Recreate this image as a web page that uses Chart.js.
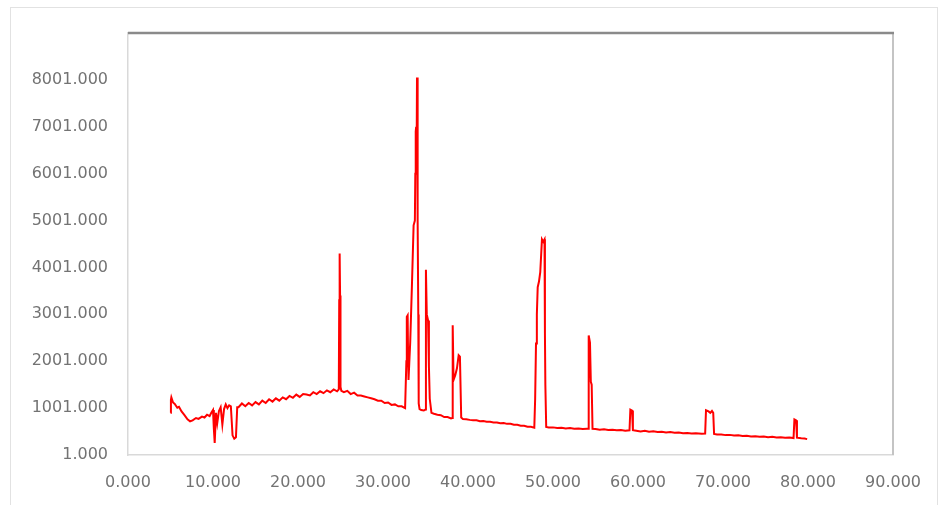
<!DOCTYPE html>
<html lang="en">
<head>
  <meta charset="UTF-8">
  <title>XRD pattern</title>
  <script src="https://cdn.jsdelivr.net/npm/chart.js"></script>
  <style>
    body { margin: 0; background: #fff; }
    .frame {
      position: absolute; left: 10px; top: 7px; width: 928px; height: 500px;
      border: 1px solid #e2e2e2; box-sizing: border-box;
    }
    canvas { position: absolute; left: 0; top: 0; }
  </style>
</head>
<body>
  <div class="frame"></div>
  <canvas id="xrdChart" width="939" height="505"></canvas>
  <script>
    // 2-theta positions and intensities
    const twoTheta = [
      5.0, 5.05, 5.1, 5.3, 5.5, 5.8, 6.0, 6.3, 6.6, 7.0, 7.3, 7.6, 8.0, 8.3, 8.7, 9.0, 9.3, 9.6, 9.8,
      10.0, 10.1, 10.2, 10.35, 10.5, 10.7, 10.9, 11.1, 11.3, 11.5, 11.7, 11.9, 12.1, 12.3, 12.5, 12.7, 12.85,
      13.0, 13.4, 13.8, 14.2, 14.6, 15.0, 15.4, 15.8, 16.2, 16.6, 17.0, 17.4, 17.8, 18.2, 18.6, 19.0, 19.4, 19.8,
      20.2, 20.6, 21.0, 21.4, 21.8, 22.2, 22.6, 23.0, 23.4, 23.8, 24.2, 24.6, 24.8, 24.85, 24.9, 24.95, 25.0,
      25.1, 25.4, 25.8, 26.2, 26.6, 27.0, 27.4, 27.8, 28.2, 28.6, 29.0, 29.4, 29.8, 30.2, 30.6, 31.0, 31.4,
      31.8, 32.2, 32.6, 32.7, 32.75, 32.8, 32.9, 32.95, 33.0, 33.2, 33.4, 33.6, 33.75, 33.8, 33.85, 33.9, 33.95,
      34.0, 34.05, 34.1, 34.15, 34.2, 34.3, 34.5, 34.8, 35.0, 35.05, 35.15, 35.3, 35.4, 35.5, 35.7,
      36.0, 36.4, 36.8, 37.2, 37.6, 38.0, 38.15, 38.2, 38.3, 38.5, 38.7, 38.9, 39.05, 39.2, 39.4, 39.8,
      40.2, 40.6, 41.0, 41.4, 41.8, 42.2, 42.6, 43.0, 43.4, 43.8, 44.2, 44.6, 45.0, 45.4, 45.8, 46.2, 46.6,
      47.0, 47.4, 47.8, 47.9, 48.0, 48.1, 48.2, 48.35, 48.5, 48.7, 48.85, 49.0, 49.05, 49.1, 49.2, 49.5,
      50.0, 50.5, 51.0, 51.5, 52.0, 52.5, 53.0, 53.5, 54.0, 54.15, 54.2, 54.35, 54.45, 54.55, 54.65,
      55.0, 55.5, 56.0, 56.5, 57.0, 57.5, 58.0, 58.5, 59.0, 59.1, 59.3, 59.4, 59.8,
      60.3, 60.8, 61.3, 61.8, 62.3, 62.8, 63.3, 63.8, 64.3, 64.8, 65.3, 65.8, 66.3, 66.8, 67.5, 67.9,
      68.0, 68.3, 68.5, 68.7, 68.85, 68.95, 69.3, 69.8, 70.3, 70.8, 71.3, 71.8, 72.3, 72.8, 73.3, 73.8,
      74.3, 74.8, 75.3, 75.8, 76.3, 76.8, 77.3, 77.8, 78.3, 78.4, 78.6, 78.7, 79.2, 79.6, 79.9
    ];
    const intensity = [
      900, 1180, 1230, 1120, 1090, 1010, 1030, 930, 860, 760, 720, 740, 790, 770, 820, 800, 860, 830, 900,
      960, 560, 260, 900, 680, 940, 1020, 650, 980, 1080, 1000, 1060, 1040, 420, 350, 380, 1020,
      1020, 1100, 1040, 1110, 1060, 1130, 1080, 1160, 1110, 1190, 1140, 1210, 1160, 1230, 1190, 1260, 1220, 1290,
      1240, 1300, 1290, 1270, 1340, 1300, 1360, 1320, 1380, 1340, 1400, 1360, 1400, 3300, 4300, 3400, 1450,
      1370, 1340, 1370, 1300, 1330, 1270, 1270, 1250, 1230, 1210, 1190, 1160, 1160, 1110, 1120, 1070, 1080,
      1040, 1040, 1000, 1000, 2000, 2950, 2980, 2100, 1600, 2400, 3600, 4900, 5000, 6000, 6900, 7000, 6200,
      8050, 7000, 5000, 3000, 1100, 980, 960, 950, 970, 3950, 3000, 2870, 1900, 1200, 900,
      880, 860, 850, 810, 810, 780, 790, 2770, 1600, 1700, 1850, 2130, 2100, 800, 770, 765,
      750, 740, 740, 720, 725, 710, 710, 695, 695, 680, 685, 665, 665, 645, 645, 625, 625,
      605, 605, 585, 1200, 2380, 3000, 3580, 3700, 3900, 4600, 4550, 4600, 2600, 1500, 600, 590,
      590, 575, 580, 565, 575, 560, 565, 555, 560, 560, 2550, 2400, 1560, 1500, 560,
      555, 540, 550, 535, 540, 530, 535, 520, 528, 970, 950, 530, 520,
      505, 518, 498, 505, 490, 495, 480, 490, 475, 480, 465, 472, 460, 465, 452, 460,
      955, 930, 900, 940, 900, 450, 440, 438, 425, 430, 415, 420, 405, 410, 395, 402,
      390, 395, 380, 388, 375, 380, 368, 372, 362, 760, 740, 370, 358, 352, 340
    ];
    const xTicks = [0, 10, 20, 30, 40, 50, 60, 70, 80, 90];
    const yTicks = [1, 1001, 2001, 3001, 4001, 5001, 6001, 7001, 8001];

    const points = twoTheta.map((t, i) => ({ x: t, y: intensity[i] }));

    // plot area outline (top and right edges)
    const plotFrame = {
      id: 'plotFrame',
      afterDraw(chart) {
        const { ctx, chartArea: a } = chart;
        ctx.save();
        ctx.strokeStyle = '#c4c4c4';
        ctx.lineWidth = 2;
        ctx.beginPath();
        ctx.moveTo(a.right, a.top);
        ctx.lineTo(a.right, a.bottom);
        ctx.stroke();
        ctx.strokeStyle = '#8a8a8a';
        ctx.lineWidth = 2.5;
        ctx.beginPath();
        ctx.moveTo(a.left, a.top);
        ctx.lineTo(a.right + 1, a.top);
        ctx.stroke();
        ctx.restore();
      }
    };

    const tickFont = { family: 'DejaVu Sans', size: 16 };

    new Chart(document.getElementById('xrdChart').getContext('2d'), {
      type: 'line',
      data: {
        datasets: [{
          data: points,
          borderColor: '#ff0000',
          borderWidth: 2,
          pointRadius: 0,
          tension: 0,
          fill: false
        }]
      },
      options: {
        responsive: false,
        animation: false,
        layout: { padding: { top: 33, right: 43, left: 0, bottom: 0 } },
        plugins: { legend: { display: false }, tooltip: { enabled: false } },
        scales: {
          x: {
            type: 'linear',
            min: 0,
            max: 90,
            afterFit: s => { s.height = 50; },
            afterBuildTicks: s => { s.ticks = xTicks.map(v => ({ value: v })); },
            grid: { display: false, drawTicks: false },
            border: { display: true, color: '#d9d9d9', width: 1.5 },
            ticks: {
              padding: 18,
              color: '#737373',
              font: tickFont,
              maxRotation: 0,
              callback: v => v.toFixed(3)
            }
          },
          y: {
            min: 1,
            max: 9001,
            afterFit: s => { s.width = 128; },
            afterBuildTicks: s => { s.ticks = yTicks.map(v => ({ value: v })); },
            grid: { display: false, drawTicks: false },
            border: { display: true, color: '#d9d9d9', width: 1.5 },
            ticks: {
              padding: 20,
              color: '#737373',
              font: tickFont,
              callback: v => v.toFixed(3)
            }
          }
        }
      },
      plugins: [plotFrame]
    });
  </script>
</body>
</html>
